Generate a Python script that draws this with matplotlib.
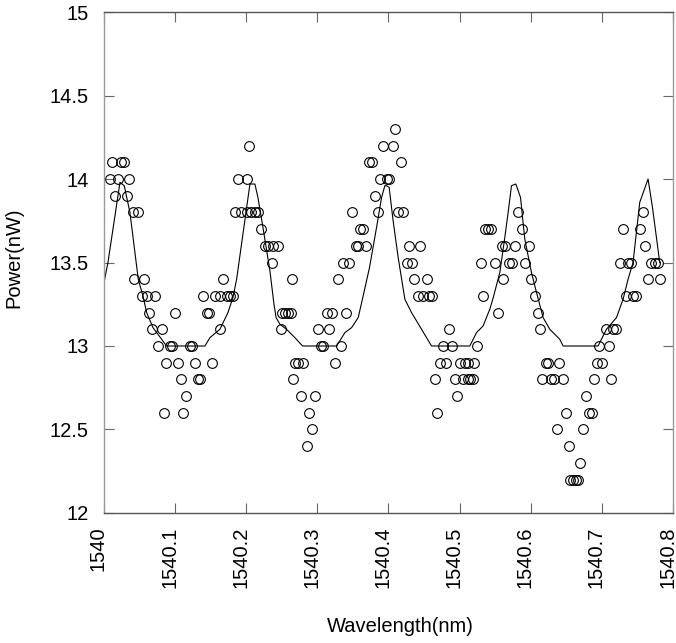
import numpy as np
import matplotlib
matplotlib.use('Agg')
import matplotlib.pyplot as plt
import matplotlib.transforms as mtransforms

plt.rcParams['font.family'] = ['Liberation Sans', 'DejaVu Sans']

# wavelength offsets from 1540 nm, grouped by measured power level
pts = {
    14.3: [.4089],
    14.2: [.2038, .3925, .4057],
    14.1: [.0112, .0239, .0281, .3728, .3762, .4170],
    14.0: [.0084, .0201, .0351, .1879, .2005, .3879, .3973, .4009],
    13.9: [.0155, .0323, .3808],
    13.8: [.0412, .0482, .1841, .1925, .2010, .2066, .2122, .2164, .3481, .3846,
           .4127, .4206, .5814, .7579],
    13.7: [.2202, .3598, .3635, .5354, .5400, .5448, .5870, .7298, .7532],
    13.6: [.2262, .2309, .2379, .2441, .3541, .3574, .3682, .4290, .4441, .5589,
           .5635, .5776, .5972, .7612],
    13.5: [.2365, .3363, .3447, .4254, .4333, .5298, .5495, .5696, .5730, .5926,
           .7261, .7368, .7416, .7697, .7743, .7790],
    13.4: [.0422, .0562, .1677, .2638, .3293, .4361, .4535, .5603, .6010, .7649, .7813],
    13.3: [.0530, .0600, .0717, .1395, .1560, .1630, .1724, .1771, .1817, .4417,
           .4487, .4571, .4605, .5330, .6057, .7345, .7438, .7486],
    13.2: [.0637, .0998, .1443, .1476, .2501, .2544, .2586, .2628, .3130, .3200,
           .3401, .5533, .6095],
    13.1: [.0670, .0811, .1634, .2487, .3012, .3162, .4852, .6127, .7055, .7157, .7205],
    13.0: [.0763, .0927, .0960, .1209, .1232, .3045, .3073, .3331, .4768, .4886,
           .5246, .6960, .7101],
    12.9: [.0871, .1036, .1279, .1522, .2684, .2730, .2801, .3246, .4722, .4802,
           .5003, .5073, .5119, .5200, .6211, .6244, .6398, .6932, .7008],
    12.8: [.1082, .1325, .1353, .2656, .4651, .4933, .5049, .5111, .5143, .5190,
           .6165, .6291, .6328, .6455, .6886, .7135],
    12.7: [.1152, .2764, .2965, .4970, .6773],
    12.6: [.0843, .1114, .2881, .4684, .6492, .6820, .6854],
    12.5: [.2927, .6370, .6736],
    12.4: [.2849, .6535],
    12.3: [.6689],
    12.2: [.6558, .6595, .6633, .6665],
}

fit_x = [0.000, 0.0056, 0.0225, 0.0285, 0.0365, 0.0482, 0.0548, 0.0600, 0.0689, 0.0881,
         0.1419, 0.1490, 0.1630, 0.1743, 0.1813, 0.1865, 0.2052, 0.2122, 0.2164, 0.2239,
         0.2333, 0.2390, 0.2420, 0.2473, 0.2567, 0.2684, 0.2792, 0.3270, 0.3387, 0.3481,
         0.3574, 0.3644, 0.3733, 0.3832, 0.3903, 0.3949, 0.3973, 0.4009, 0.4065, 0.4136,
         0.4230, 0.4324, 0.4465, 0.4605, 0.5143, 0.5237, 0.5330, 0.5424, 0.5466, 0.5565,
         0.5632, 0.5682, 0.5729, 0.5790, 0.5856, 0.5916, 0.6010, 0.6081, 0.6174, 0.6268,
         0.6408, 0.6455, 0.6946, 0.7064, 0.7205, 0.7298, 0.7368, 0.7438, 0.7532, 0.7649,
         0.7711, 0.7813]
fit_y = [13.38, 13.50, 13.98, 13.96, 13.80, 13.40, 13.30, 13.20, 13.11, 13.00,
         13.00, 13.05, 13.10, 13.20, 13.29, 13.40, 13.97, 13.97, 13.89, 13.70,
         13.45, 13.25, 13.17, 13.13, 13.10, 13.05, 13.00, 13.00, 13.08, 13.11,
         13.17, 13.30, 13.47, 13.71, 13.89, 13.96, 13.96, 13.95, 13.75, 13.53,
         13.28, 13.20, 13.10, 13.00, 13.00, 13.08, 13.12, 13.22, 13.28, 13.44,
         13.64, 13.80, 13.96, 13.97, 13.89, 13.64, 13.44, 13.32, 13.17, 13.10,
         13.04, 13.00, 13.00, 13.10, 13.17, 13.28, 13.40, 13.50, 13.86, 14.00,
         13.83, 13.50]

x_ticks = [1540, 1540.1, 1540.2, 1540.3, 1540.4, 1540.5, 1540.6, 1540.7, 1540.8]
x_labels = ['1540', '1540.1', '1540.2', '1540.3', '1540.4', '1540.5', '1540.6', '1540.7', '1540.8']
y_ticks = [12, 12.5, 13, 13.5, 14, 14.5, 15]
y_labels = ['12', '12.5', '13', '13.5', '14', '14.5', '15']

sx = []
sy = []
for level, offs in pts.items():
    for o in offs:
        sx.append(1540 + o)
        sy.append(level)

fig = plt.figure(figsize=(6.76, 6.43), dpi=100)
ax = fig.add_axes([0.1538, 0.2022, 0.8418, 0.7791])

ax.plot(sx, sy, 'o', mfc='none', mec='black', ms=7, mew=0.8)
ax.plot(1540 + np.array(fit_x), fit_y, color='black', lw=0.8)

ax.set_xlim(1540, 1540.8)
ax.set_ylim(12, 15)
ax.set_xticks(x_ticks)
ax.set_xticklabels(x_labels, rotation=90)
ax.set_yticks(y_ticks)
ax.set_yticklabels(y_labels)

ax.tick_params(direction='in', length=7, width=0.8, color='#666666',
               top=True, right=True, labelsize=14.5)
ax.tick_params(axis='y', pad=11)
ax.tick_params(axis='x', pad=10)

# shift the rotated x labels a little to the left, as in the original
shift = mtransforms.ScaledTranslation(-5.5 / 100, 0, fig.dpi_scale_trans)
for lab in ax.get_xticklabels():
    lab.set_transform(lab.get_transform() + shift)

for s in ['left', 'right']:
    ax.spines[s].set_color('#999999')
for s in ['top', 'bottom']:
    ax.spines[s].set_color('#555555')
for s in ax.spines.values():
    s.set_linewidth(1.0)

ax.set_xlabel('Wavelength(nm)', fontsize=14.5)
ax.set_ylabel('Power(nW)', fontsize=14.5)
ax.xaxis.set_label_coords(0.521, -0.207)
ax.yaxis.set_label_coords(-0.141, 0.509)

fig.savefig('out.png', dpi=100)
plt.close()
